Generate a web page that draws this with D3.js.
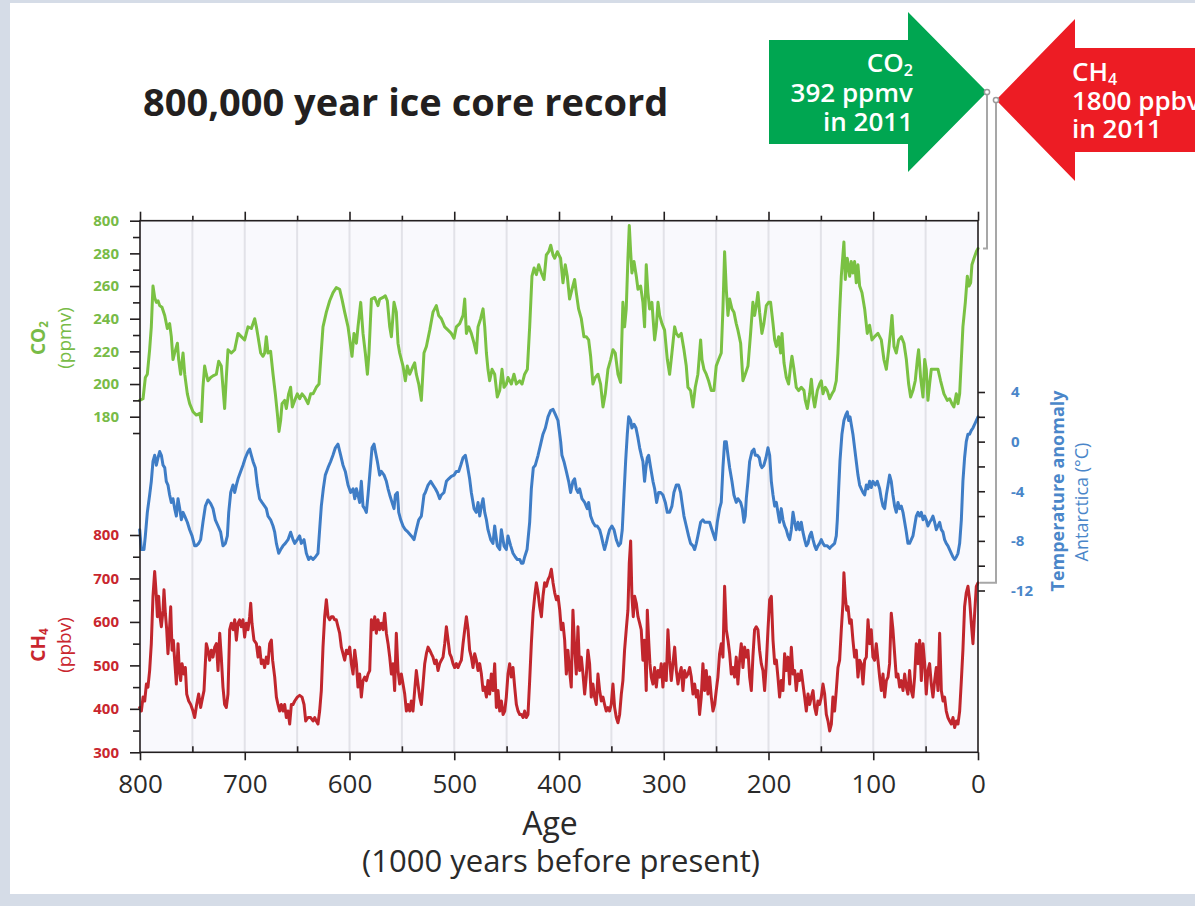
<!DOCTYPE html>
<html>
<head>
<meta charset="utf-8">
<script src="https://cdn.jsdelivr.net/npm/d3@7"></script>
<style>
  body { margin: 0; background: #d5dce7; }
  svg { display: block; }
  text { font-family: "Open Sans", "Noto Sans", sans-serif; }
</style>
</head>
<body>
<svg id="chart" width="1195" height="906"></svg>
<script>
// Age axis (thousand years before present)
const ageTicks = [800, 700, 600, 500, 400, 300, 200, 100, 0];
const ageMinorTicks = [750, 650, 550, 450, 350, 250, 150, 50];

// CO2 axis (ppmv); the top tick carries the label "800" as printed on the figure
const co2Ticks = [180, 200, 220, 240, 260, 280, 300];
const co2TickLabels = ["180", "200", "220", "240", "260", "280", "800"];
const co2MinorTicks = [170, 190, 210, 230, 250, 270, 290];

// CH4 axis (ppbv)
const ch4Ticks = [300, 400, 500, 600, 700, 800];
const ch4MinorTicks = [350, 450, 550, 650, 750];

// Antarctic temperature anomaly axis (°C)
const tempTicks = [4, 0, -4, -8, -12];
const tempMinorTicks = [2, -2, -6, -10];

// Present-day values shown in the arrows
const co2Now = ["CO", "2", "392 ppmv", "in 2011"];
const ch4Now = ["CH", "4", "1800 ppbv", "in 2011"];

// Ice core records: [age in kyr BP, value]
const co2Record = [[800.3,190],[797.1,191],[794.9,204],[793.0,206],[790.8,221],[789.2,235],[787.6,260],[786.0,253],[784.4,250],[782.8,251],[781.2,248],[779.0,247],[776.4,242],[773.9,234],[771.7,237],[770.1,229],[768.5,215],[766.9,219],[764.3,225],[763.1,215],[761.2,206],[758.9,219],[757.3,206],[754.8,194],[752.6,188],[749.4,183],[746.2,181],[743.0,182],[741.4,177],[739.9,198],[738.3,211],[736.7,206],[735.1,202],[732.5,204],[730.3,205],[727.1,206],[724.9,214],[722.4,211],[720.8,198],[719.2,185],[717.6,204],[716.0,221],[712.8,219],[709.6,221],[706.4,231],[703.3,229],[700.1,227],[696.9,235],[693.7,234],[690.5,240],[688.9,235],[687.3,229],[684.8,219],[682.6,217],[681.0,219],[679.4,229],[677.8,219],[675.3,220],[673.0,206],[670.8,194],[668.9,182],[667.3,171],[665.7,178],[664.4,188],[661.9,190],[660.3,185],[658.1,194],[656.2,198],[654.6,186],[652.3,190],[649.8,194],[647.6,191],[645.3,194],[642.8,192],[639.6,188],[637.1,194],[634.8,194],[631.7,198],[629.1,200],[627.5,215],[625.3,235],[622.1,244],[618.9,251],[615.7,256],[612.6,259],[609.4,258],[607.2,252],[604.6,244],[601.4,235],[597.6,217],[595.7,231],[593.4,225],[591.9,235],[589.3,250],[587.1,231],[584.9,219],[582.9,206],[581.4,219],[579.1,252],[575.9,253],[572.8,248],[571.2,252],[568.0,253],[565.8,254],[563.9,251],[561.6,235],[560.0,229],[557.5,250],[555.3,244],[553.7,225],[552.1,219],[548.9,211],[546.7,202],[544.8,211],[542.5,206],[539.3,211],[537.8,213],[536.2,206],[533.9,200],[531.4,190],[528.9,219],[526.6,223],[523.4,233],[520.3,244],[517.1,248],[514.9,242],[512.3,240],[509.1,235],[505.9,233],[502.8,231],[500.2,228],[498.0,235],[494.8,237],[491.6,242],[490.0,252],[488.4,231],[486.2,235],[483.7,231],[481.1,225],[478.9,219],[477.3,235],[474.8,240],[472.5,246],[470.9,235],[469.3,219],[467.8,209],[466.2,202],[463.9,209],[461.4,206],[458.9,192],[456.6,196],[454.4,209],[452.5,198],[450.3,200],[448.7,204],[445.5,200],[443.0,206],[440.7,200],[437.5,202],[435.3,200],[432.8,206],[430.2,209],[428.0,235],[425.8,266],[423.8,271],[421.6,267],[419.4,273],[416.8,268],[414.3,264],[412.1,279],[409.8,281],[407.9,285],[405.7,279],[404.1,277],[401.6,281],[399.3,278],[398.5,277],[396.2,262],[394.0,273],[392.1,266],[389.9,252],[387.6,258],[385.1,264],[383.5,256],[381.3,246],[378.7,240],[376.2,229],[374.0,229],[371.7,227],[369.8,217],[367.6,200],[365.4,204],[362.8,206],[360.3,200],[358.0,186],[355.8,194],[353.3,209],[350.7,215],[348.5,221],[346.3,219],[343.7,206],[341.2,201],[339.0,250],[337.4,235],[335.8,246],[334.2,277],[332.9,297],[331.6,281],[330.4,268],[328.4,275],[326.2,266],[324.6,258],[322.1,260],[319.9,250],[318.3,235],[316.7,273],[315.1,256],[313.5,246],[311.3,250],[308.7,227],[307.1,235],[305.5,250],[303.9,242],[301.7,237],[299.2,233],[296.6,215],[294.4,206],[292.2,219],[289.6,235],[288.0,231],[285.8,229],[283.3,231],[280.7,221],[278.5,211],[276.9,198],[274.4,196],[272.1,186],[269.9,198],[267.4,206],[264.8,227],[263.5,215],[261.6,209],[259.4,206],[257.2,202],[254.6,196],[252.1,196],[249.9,211],[247.6,215],[245.1,219],[243.5,246],[241.9,281],[240.3,258],[238.7,242],[237.1,252],[234.9,246],[233.0,244],[230.8,237],[229.2,233],[226.6,225],[224.4,202],[222.2,206],[219.6,211],[217.1,231],[214.9,250],[213.3,242],[211.7,248],[210.1,256],[208.5,244],[206.3,231],[204.4,237],[202.1,248],[199.9,250],[198.0,250],[195.7,237],[194.1,227],[192.5,223],[190.3,229],[188.4,219],[187.1,231],[185.2,213],[183.0,204],[180.8,200],[178.9,211],[177.6,217],[175.7,209],[173.5,198],[171.2,196],[168.7,198],[166.1,196],[164.9,190],[162.9,185],[160.7,194],[159.1,203],[157.5,192],[155.9,186],[153.4,196],[151.2,200],[149.6,202],[148.0,194],[145.8,198],[143.9,196],[141.6,191],[139.4,194],[137.5,196],[135.3,202],[133.7,219],[132.1,244],[130.5,266],[128.0,287],[126.7,264],[124.8,277],[122.5,266],[121.0,275],[119.4,268],[117.8,275],[116.2,262],[114.6,273],[113.0,260],[110.8,256],[108.2,246],[105.7,231],[103.5,236],[101.2,227],[98.7,229],[95.5,231],[92.3,227],[89.8,215],[87.5,209],[85.3,221],[83.4,233],[82.1,242],[80.2,223],[78.0,219],[75.8,227],[73.2,229],[70.7,225],[68.4,215],[66.2,200],[64.3,192],[62.1,196],[59.9,202],[57.9,215],[56.7,221],[54.8,204],[52.5,192],[50.9,215],[49.4,209],[47.8,190],[46.2,200],[44.6,209],[41.4,209],[38.2,209],[35.7,202],[32.5,194],[29.3,190],[27.1,191],[24.9,188],[23.0,186],[20.7,194],[19.1,188],[17.5,194],[15.9,215],[14.4,235],[12.1,250],[10.2,266],[8.6,260],[7.0,262],[5.8,273],[3.8,277],[1.6,281],[0.0,283]];

const tempRecord = [[800.3,-7.1],[798.7,-8.7],[796.2,-8.7],[794.9,-7.6],[793.0,-5.7],[790.8,-4.3],[789.2,-3.2],[787.6,-1.6],[786.0,-1.1],[784.4,-1.9],[782.8,-1.3],[781.2,-0.8],[779.6,-1.1],[778.0,-1.9],[776.4,-2.1],[774.9,-3.2],[773.3,-3.5],[771.7,-4.3],[770.1,-4.9],[768.5,-4.6],[766.9,-5.4],[765.3,-6.0],[763.7,-4.6],[762.1,-5.4],[760.5,-6.3],[758.9,-5.7],[757.3,-6.0],[754.8,-6.5],[752.6,-7.1],[750.3,-7.6],[747.8,-8.4],[746.2,-8.4],[744.0,-8.2],[742.1,-7.9],[739.9,-6.5],[737.6,-5.2],[735.1,-4.7],[732.5,-5.0],[730.3,-5.4],[728.1,-6.3],[725.5,-6.8],[723.0,-7.3],[720.8,-8.4],[718.5,-8.2],[716.6,-7.6],[715.3,-5.7],[713.4,-4.1],[711.2,-3.5],[709.6,-4.1],[708.0,-3.5],[706.4,-3.0],[703.9,-2.4],[701.7,-1.9],[699.4,-1.3],[696.9,-0.8],[695.3,-0.6],[693.7,-1.1],[692.1,-1.6],[689.9,-2.1],[688.0,-3.5],[685.8,-4.6],[683.5,-4.9],[681.0,-5.2],[679.4,-5.4],[677.8,-6.0],[675.3,-6.3],[673.0,-6.8],[671.4,-7.3],[669.8,-8.2],[667.6,-9.0],[665.7,-8.7],[663.5,-8.4],[661.3,-8.2],[658.7,-7.9],[656.2,-7.3],[653.9,-7.9],[652.3,-8.2],[649.8,-7.9],[647.6,-7.6],[646.0,-8.2],[643.4,-7.9],[641.2,-9.0],[639.0,-9.5],[637.1,-9.3],[634.8,-9.5],[632.6,-9.3],[630.1,-9.0],[628.5,-7.1],[626.9,-5.2],[625.0,-3.8],[623.1,-2.7],[620.5,-2.1],[618.0,-1.6],[615.8,-1.1],[613.5,-0.5],[611.0,-0.2],[608.4,-1.1],[606.2,-1.9],[604.0,-2.4],[601.4,-3.5],[598.9,-4.1],[596.6,-3.8],[595.0,-4.6],[593.4,-3.8],[591.9,-4.3],[590.3,-4.9],[588.7,-3.2],[587.1,-5.2],[585.5,-5.4],[583.9,-5.7],[582.3,-4.3],[580.7,-2.7],[578.5,-0.5],[576.6,-0.2],[575.3,-0.8],[573.4,-1.6],[571.2,-2.7],[569.6,-2.4],[567.0,-2.7],[564.8,-3.2],[563.2,-3.8],[561.6,-4.3],[559.4,-4.9],[557.5,-5.4],[556.2,-4.3],[554.3,-4.1],[553.0,-5.7],[551.1,-6.3],[548.9,-6.8],[546.7,-7.1],[544.1,-7.3],[541.0,-7.6],[538.4,-7.9],[536.2,-7.1],[533.9,-6.3],[531.4,-6.0],[528.9,-4.3],[527.6,-4.1],[525.0,-3.5],[522.5,-3.2],[520.3,-3.5],[518.0,-3.8],[516.1,-4.1],[513.9,-4.6],[512.3,-4.3],[509.8,-4.1],[507.5,-3.2],[505.3,-3.0],[502.8,-2.8],[500.2,-2.7],[498.0,-2.4],[495.8,-2.4],[493.8,-1.9],[491.6,-1.3],[489.4,-1.1],[487.5,-1.9],[485.3,-3.0],[483.7,-4.1],[481.1,-5.4],[478.9,-5.7],[477.3,-4.9],[475.7,-6.0],[474.1,-5.2],[472.5,-4.6],[470.9,-5.7],[469.3,-6.3],[467.8,-7.1],[465.2,-7.9],[463.0,-8.2],[461.4,-6.8],[458.9,-8.4],[456.6,-8.7],[455.0,-7.1],[452.5,-8.4],[450.3,-8.7],[448.7,-7.6],[446.1,-8.4],[443.9,-9.0],[441.7,-9.3],[439.8,-9.5],[437.5,-9.5],[435.9,-9.8],[434.3,-9.8],[432.8,-9.3],[430.5,-8.7],[428.0,-6.5],[426.4,-3.8],[424.5,-2.1],[422.6,-1.9],[420.0,-1.1],[417.5,-0.2],[415.3,0.6],[413.0,1.1],[410.5,2.0],[408.0,2.5],[405.7,2.6],[403.5,2.2],[401.0,1.7],[398.4,0.0],[397.2,-1.1],[395.3,-1.6],[393.0,-2.4],[390.8,-3.2],[388.9,-4.1],[386.7,-3.2],[385.1,-3.0],[383.5,-3.8],[381.9,-4.1],[380.3,-3.8],[378.1,-4.6],[375.5,-4.9],[373.0,-5.4],[371.7,-4.9],[369.8,-6.0],[367.6,-6.5],[365.4,-6.8],[363.5,-6.8],[361.2,-7.1],[359.6,-7.6],[358.0,-8.2],[356.5,-8.7],[354.9,-8.2],[353.3,-7.6],[351.7,-7.1],[349.5,-6.8],[347.5,-7.1],[345.3,-7.9],[343.1,-8.4],[341.2,-8.2],[339.6,-7.1],[338.0,-4.3],[336.4,-1.6],[334.8,0.6],[333.5,2.0],[331.6,1.7],[330.4,1.1],[328.4,1.4],[326.5,1.1],[324.6,0.3],[323.0,-0.5],[321.4,-1.1],[319.9,-1.6],[318.3,-3.2],[317.0,-2.1],[315.7,-1.3],[314.4,-1.1],[312.5,-2.1],[310.3,-3.2],[308.7,-3.8],[306.8,-4.9],[304.9,-4.1],[303.0,-4.1],[300.8,-4.3],[298.5,-4.9],[296.6,-5.7],[294.4,-5.7],[292.2,-5.2],[290.3,-4.1],[288.0,-3.5],[285.8,-3.5],[283.9,-4.1],[282.6,-4.9],[280.7,-6.0],[278.5,-6.8],[276.3,-7.6],[274.4,-8.2],[272.1,-8.4],[270.5,-8.7],[268.9,-8.2],[267.4,-7.6],[264.8,-6.5],[262.6,-6.3],[261.0,-6.5],[258.4,-6.5],[256.2,-6.5],[254.0,-7.1],[252.1,-7.6],[250.8,-7.9],[248.9,-6.5],[246.7,-5.4],[245.1,-4.9],[243.5,-2.1],[241.9,0.0],[240.3,0.0],[238.7,-1.1],[237.1,-2.1],[234.9,-3.2],[233.0,-4.3],[230.8,-4.9],[229.2,-4.6],[226.6,-4.9],[225.0,-5.4],[223.4,-6.5],[222.2,-6.0],[221.2,-4.6],[219.6,-3.2],[218.0,-1.6],[215.8,-0.8],[213.9,-0.6],[212.6,-1.1],[210.7,-1.1],[208.8,-1.3],[207.5,-1.9],[206.3,-2.1],[204.4,-1.9],[202.4,-1.3],[200.5,-0.5],[198.9,-1.1],[197.3,-3.2],[195.7,-4.3],[194.1,-5.2],[192.5,-4.9],[191.0,-5.7],[189.4,-6.5],[187.8,-5.4],[186.2,-6.3],[184.6,-6.8],[183.0,-7.1],[181.4,-7.6],[179.8,-7.9],[178.2,-7.1],[176.6,-5.7],[175.0,-6.5],[173.5,-7.1],[171.9,-6.5],[170.3,-7.1],[168.7,-6.5],[167.1,-7.3],[165.5,-7.9],[163.9,-8.4],[162.3,-8.2],[160.7,-7.6],[159.1,-7.3],[157.5,-7.9],[155.9,-8.4],[154.4,-8.7],[152.8,-8.4],[151.2,-8.2],[149.6,-7.9],[148.0,-8.2],[146.4,-8.4],[143.9,-8.4],[141.6,-8.6],[139.4,-8.4],[136.9,-8.2],[135.3,-7.6],[134.3,-6.3],[133.0,-3.8],[131.8,-1.6],[129.9,0.6],[128.0,1.7],[126.0,2.2],[124.8,2.4],[123.5,1.7],[122.2,2.0],[121.0,1.4],[119.4,0.6],[117.8,-0.5],[116.2,-1.6],[114.6,-2.7],[113.0,-3.5],[111.4,-3.8],[109.8,-4.1],[108.2,-4.3],[106.6,-3.5],[105.0,-3.8],[103.5,-3.2],[101.9,-3.7],[100.3,-3.2],[98.0,-3.5],[96.1,-3.2],[93.9,-3.8],[92.3,-4.6],[90.7,-5.2],[89.1,-5.4],[87.5,-4.3],[85.9,-3.5],[84.4,-2.7],[82.8,-3.2],[81.2,-4.3],[79.6,-5.2],[78.0,-5.7],[76.4,-4.9],[74.8,-5.4],[73.2,-5.2],[71.6,-5.7],[70.0,-6.5],[68.4,-7.3],[66.9,-8.2],[65.3,-8.2],[63.7,-7.9],[62.1,-7.6],[60.5,-6.8],[58.9,-6.0],[57.3,-5.7],[55.7,-6.0],[54.1,-5.7],[52.5,-6.3],[50.9,-6.0],[49.4,-6.3],[47.8,-6.8],[46.2,-6.5],[44.6,-6.3],[43.0,-6.0],[41.4,-6.5],[39.8,-7.1],[38.2,-6.8],[36.6,-6.5],[35.0,-7.1],[33.4,-7.3],[31.9,-7.9],[30.3,-8.2],[28.7,-8.4],[27.1,-8.7],[25.5,-9.0],[23.9,-9.3],[22.3,-9.5],[20.7,-9.3],[19.1,-9.0],[17.5,-8.2],[15.9,-6.3],[14.4,-3.2],[12.8,-1.3],[11.2,0.0],[9.6,0.6],[8.0,0.6],[6.4,0.9],[4.8,1.1],[3.2,1.4],[1.6,1.7],[0.0,2.0]];

const ch4Record = [[800.3,403],[798.7,395],[797.1,427],[795.5,418],[793.9,457],[792.4,450],[790.8,488],[789.2,550],[787.6,659],[786.0,716],[784.4,659],[783.4,612],[782.2,659],[780.9,612],[779.6,589],[778.0,627],[777.1,674],[775.8,620],[774.5,582],[773.3,527],[771.7,589],[770.7,635],[769.4,535],[768.2,558],[766.9,512],[765.3,457],[763.7,550],[762.4,488],[761.2,465],[759.9,504],[758.0,480],[756.7,495],[755.4,434],[753.5,418],[751.6,410],[749.4,395],[747.8,380],[745.9,410],[744.0,434],[742.1,403],[740.2,427],[738.9,442],[736.7,550],[735.1,535],[733.5,512],[731.9,535],[730.3,519],[728.7,542],[727.1,550],[725.5,488],[723.9,574],[722.4,519],[720.8,450],[719.2,410],[717.6,403],[716.0,434],[714.4,582],[712.8,597],[711.2,582],[709.6,605],[708.0,558],[706.4,597],[704.9,605],[703.3,589],[701.7,605],[700.1,565],[698.5,597],[696.9,582],[695.3,612],[694.3,643],[693.1,597],[691.2,558],[688.9,550],[687.3,519],[685.8,542],[684.2,504],[682.6,512],[681.0,495],[679.4,519],[677.8,504],[676.2,550],[674.6,558],[673.4,512],[671.4,473],[669.8,427],[668.3,410],[666.7,395],[665.1,410],[663.5,395],[661.9,410],[660.3,380],[658.7,395],[657.1,365],[655.5,410],[653.9,410],[652.3,418],[649.8,427],[647.6,431],[645.3,427],[643.4,410],[641.8,372],[639.6,380],[637.1,380],[634.8,372],[633.2,380],[631.7,372],[630.1,365],[628.5,395],[626.9,442],[625.3,542],[623.7,612],[622.1,651],[620.5,612],[618.9,605],[617.3,612],[615.7,612],[614.2,605],[612.6,605],[611.0,589],[609.4,574],[607.8,542],[606.2,527],[604.6,512],[603.0,535],[601.4,527],[599.8,542],[598.2,504],[596.6,480],[595.0,535],[593.4,504],[591.9,450],[590.3,480],[588.7,427],[587.1,465],[585.5,473],[583.9,465],[582.3,480],[580.7,488],[579.1,605],[577.5,582],[575.9,612],[574.4,574],[572.8,605],[571.2,582],[569.6,597],[568.0,582],[566.4,620],[564.8,574],[563.2,550],[561.6,519],[560.0,480],[558.4,504],[556.9,442],[555.3,574],[553.7,488],[552.1,457],[550.5,480],[548.9,457],[547.3,434],[545.7,395],[544.1,410],[542.5,395],[541.0,418],[539.4,395],[537.8,442],[536.2,488],[534.6,457],[533.0,427],[531.4,410],[529.8,457],[528.2,504],[526.6,527],[525.0,542],[523.4,535],[521.9,527],[520.3,519],[518.7,504],[517.1,512],[515.5,488],[513.9,504],[512.3,512],[510.7,519],[509.1,550],[507.5,589],[505.9,558],[504.3,527],[502.8,519],[501.2,504],[499.6,495],[498.0,504],[496.4,495],[494.8,504],[493.2,512],[491.6,550],[490.0,582],[488.4,612],[486.8,582],[485.3,535],[483.7,519],[482.1,495],[480.5,527],[478.9,512],[477.3,488],[475.7,504],[474.1,480],[472.5,442],[470.9,450],[469.3,427],[467.8,465],[466.2,434],[464.6,480],[463.0,442],[461.4,504],[459.8,403],[458.2,442],[456.6,395],[455.0,418],[453.4,387],[451.8,395],[450.3,427],[448.7,480],[447.1,504],[445.5,473],[443.9,495],[442.3,450],[440.7,410],[439.1,395],[437.5,387],[435.9,387],[434.3,380],[432.8,395],[431.2,380],[429.6,387],[428.0,465],[426.4,550],[424.8,620],[423.2,659],[421.6,690],[420.0,667],[418.4,635],[416.8,612],[415.3,659],[413.7,690],[412.1,682],[410.5,697],[408.9,705],[407.3,721],[405.7,690],[404.1,667],[402.5,651],[400.9,659],[399.3,627],[397.8,582],[396.2,597],[394.6,558],[393.0,480],[391.5,535],[389.9,488],[388.3,450],[386.7,627],[385.1,542],[383.5,480],[381.9,589],[380.3,488],[378.7,519],[377.1,480],[375.5,434],[374.0,473],[372.4,535],[370.8,504],[369.2,427],[367.6,457],[366.0,427],[364.4,410],[362.8,480],[361.2,442],[359.6,418],[358.0,427],[356.5,410],[354.9,395],[353.3,403],[351.7,395],[350.1,410],[348.5,457],[346.9,403],[345.3,380],[343.7,368],[342.1,387],[340.5,434],[339.0,465],[337.4,535],[335.8,582],[334.2,627],[332.9,736],[331.6,786],[330.4,659],[329.1,612],[327.8,659],[326.2,643],[324.6,612],[323.0,597],[321.5,582],[319.9,512],[318.3,558],[316.7,442],[315.7,627],[314.4,558],[313.2,504],[311.9,473],[310.3,457],[308.7,495],[307.1,450],[305.5,488],[303.9,473],[302.4,504],[300.8,450],[299.2,504],[297.6,465],[296.0,582],[294.4,512],[292.8,465],[291.2,504],[289.6,542],[288.0,488],[286.4,457],[284.9,480],[283.3,495],[281.7,442],[280.1,488],[278.5,473],[276.9,480],[275.3,495],[273.7,473],[272.1,434],[270.5,457],[268.9,427],[267.4,442],[265.8,387],[264.2,427],[262.6,504],[261.0,442],[259.4,488],[257.8,434],[256.2,473],[254.6,427],[253.0,395],[251.4,410],[249.9,442],[248.3,473],[246.7,527],[245.1,550],[243.5,519],[241.9,682],[240.3,582],[238.7,558],[237.1,527],[235.5,480],[233.9,495],[232.4,473],[230.8,519],[229.2,457],[227.6,512],[226.0,550],[224.4,495],[222.8,542],[221.2,519],[219.6,535],[218.0,473],[216.4,442],[214.9,519],[213.3,582],[211.7,589],[210.1,582],[208.5,535],[206.9,504],[205.3,488],[203.7,442],[202.1,504],[200.5,582],[198.9,651],[197.3,659],[195.7,558],[194.1,504],[192.5,512],[191.0,473],[189.4,427],[187.8,465],[186.2,442],[184.6,527],[183.0,488],[181.4,519],[179.8,457],[178.2,542],[176.6,480],[175.0,488],[173.5,442],[171.9,480],[170.3,465],[168.7,488],[167.1,457],[165.5,427],[163.9,395],[162.3,434],[160.7,410],[159.1,427],[157.5,442],[155.9,403],[154.4,387],[152.8,418],[151.2,410],[149.6,427],[148.0,457],[146.4,434],[144.8,387],[143.2,372],[141.6,349],[140.0,365],[138.5,427],[136.9,395],[135.3,442],[133.7,495],[132.1,512],[130.5,582],[128.9,643],[128.0,713],[126.7,659],[125.4,627],[124.1,635],[122.5,597],[121.0,605],[119.4,558],[117.8,519],[116.2,535],[114.6,473],[113.0,512],[111.4,504],[109.8,457],[108.2,512],[106.6,519],[105.0,605],[103.4,550],[101.9,582],[100.3,519],[98.7,512],[97.1,550],[95.5,512],[93.9,473],[92.3,442],[90.7,480],[89.1,427],[87.5,465],[85.9,473],[84.4,504],[82.8,620],[81.2,582],[79.6,527],[78.0,473],[76.4,480],[74.8,450],[73.2,465],[71.6,442],[70.0,480],[68.4,450],[66.9,434],[65.3,488],[63.7,442],[62.1,427],[60.5,473],[58.9,550],[57.3,504],[55.7,558],[54.1,465],[52.5,550],[50.9,504],[49.4,434],[47.8,488],[46.2,504],[44.6,457],[43.0,427],[41.4,465],[39.8,495],[38.2,442],[36.6,574],[35.0,442],[33.4,418],[31.9,427],[30.3,395],[28.7,380],[27.1,372],[25.5,365],[23.9,380],[22.3,357],[20.7,372],[19.1,365],[17.5,395],[15.9,465],[14.4,535],[12.8,635],[11.2,667],[9.6,682],[8.0,651],[6.4,597],[4.8,550],[3.2,620],[1.6,682],[0.0,690]];

// ---- colours ----
const co2Colour = "#7ac143", co2Text = "#78bb47";
const tempColour = "#3f7dc6", tempText = "#4a86c9";
const ch4Colour = "#c1262d", ch4Text = "#c9262e";
const inkColour = "#231f20";

const svg = d3.select("#chart");

// page frame
svg.append("rect").attr("x", 0).attr("y", 0).attr("width", 1195).attr("height", 906).attr("fill", "#d5dce7");
svg.append("rect").attr("x", 10).attr("y", 3).attr("width", 1185).attr("height", 891).attr("fill", "#ffffff");

// ---- scales ----
const x = d3.scaleLinear().domain([800, 0]).range([140, 978]);
const yCO2 = d3.scaleLinear().domain([180, 300]).range([416.7, 220.7]);
const yTemp = d3.scaleLinear().domain([-12, 4]).range([590.5, 392]);
const yCH4 = d3.scaleLinear().domain([300, 800]).range([752.3, 535]);

const plotTop = yCO2(300), plotBottom = yCH4(300), plotLeft = x(800), plotRight = x(0);

// plot background and vertical guides
svg.append("rect").attr("x", plotLeft).attr("y", plotTop)
  .attr("width", plotRight - plotLeft).attr("height", plotBottom - plotTop)
  .attr("fill", "#f9f9fd");
svg.append("g").selectAll("line").data(ageMinorTicks.concat(ageTicks.slice(1, -1))).join("line")
  .attr("x1", d => x(d)).attr("x2", d => x(d)).attr("y1", plotTop).attr("y2", plotBottom)
  .attr("stroke", "#e2e2e8").attr("stroke-width", 2);

// ---- series ----
function drawSeries(data, yScale, colour) {
  const line = d3.line().x(d => x(d[0])).y(d => yScale(d[1]));
  svg.append("path").datum(data).attr("d", line)
    .attr("fill", "none").attr("stroke", colour).attr("stroke-width", 3)
    .attr("stroke-linejoin", "round").attr("stroke-linecap", "round");
}
drawSeries(co2Record, yCO2, co2Colour);
drawSeries(tempRecord, yTemp, tempColour);
drawSeries(ch4Record, yCH4, ch4Colour);

// ---- frame ----
svg.append("rect").attr("x", plotLeft).attr("y", plotTop)
  .attr("width", plotRight - plotLeft).attr("height", plotBottom - plotTop)
  .attr("fill", "none").attr("stroke", inkColour).attr("stroke-width", 1.6);

function styleAxis(g, colour) {
  g.select(".domain").remove();
  g.selectAll(".tick line").attr("stroke", colour).attr("stroke-width", 1.6);
}

// age axes
const gBottom = svg.append("g").attr("transform", `translate(0,${plotBottom})`)
  .call(d3.axisBottom(x).tickValues(ageTicks).tickSize(8).tickPadding(14).tickFormat(d3.format("d")));
styleAxis(gBottom, inkColour);
gBottom.selectAll("text").attr("fill", "#2a2a2a").attr("font-size", 26).attr("font-family", "Open Sans");
const gBottomMinor = svg.append("g").attr("transform", `translate(0,${plotBottom})`)
  .call(d3.axisBottom(x).tickValues(ageMinorTicks).tickSize(-6).tickFormat(""));
styleAxis(gBottomMinor, inkColour);

const gTop = svg.append("g").attr("transform", `translate(0,${plotTop})`)
  .call(d3.axisTop(x).tickValues(ageTicks).tickSize(9).tickFormat(""));
styleAxis(gTop, inkColour);
const gTopMinor = svg.append("g").attr("transform", `translate(0,${plotTop})`)
  .call(d3.axisTop(x).tickValues(ageMinorTicks).tickSize(5).tickFormat(""));
styleAxis(gTopMinor, inkColour);

// CO2 axis
const gCO2 = svg.append("g").attr("transform", `translate(${plotLeft},0)`)
  .call(d3.axisLeft(yCO2).tickValues(co2Ticks).tickSize(10).tickPadding(11)
    .tickFormat((d, i) => co2TickLabels[i]));
styleAxis(gCO2, inkColour);
gCO2.selectAll("text").attr("fill", co2Text).attr("font-size", 15).attr("font-weight", 700);
const gCO2Minor = svg.append("g").attr("transform", `translate(${plotLeft},0)`)
  .call(d3.axisLeft(yCO2).tickValues(co2MinorTicks).tickSize(7).tickFormat(""));
styleAxis(gCO2Minor, inkColour);

// CH4 axis
const gCH4 = svg.append("g").attr("transform", `translate(${plotLeft},0)`)
  .call(d3.axisLeft(yCH4).tickValues(ch4Ticks).tickSize(10).tickPadding(11).tickFormat(d3.format("d")));
styleAxis(gCH4, inkColour);
gCH4.selectAll("text").attr("fill", ch4Text).attr("font-size", 15).attr("font-weight", 700);
const gCH4Minor = svg.append("g").attr("transform", `translate(${plotLeft},0)`)
  .call(d3.axisLeft(yCH4).tickValues(ch4MinorTicks).tickSize(7).tickFormat(""));
styleAxis(gCH4Minor, inkColour);

// temperature axis
const gTemp = svg.append("g").attr("transform", `translate(${plotRight},0)`)
  .call(d3.axisRight(yTemp).tickValues(tempTicks).tickSize(7).tickPadding(26)
    .tickFormat(d => (d < 0 ? "-" + Math.abs(d) : String(d))));
styleAxis(gTemp, inkColour);
gTemp.selectAll("text").attr("fill", tempText).attr("font-size", 15).attr("font-weight", 700);
const gTempMinor = svg.append("g").attr("transform", `translate(${plotRight},0)`)
  .call(d3.axisRight(yTemp).tickValues(tempMinorTicks).tickSize(7).tickFormat(""));
styleAxis(gTempMinor, inkColour);

// ---- axis titles ----
function vTitle(xPos, yPos, parts, colour, size, weight) {
  const t = svg.append("text").attr("transform", `translate(${xPos},${yPos}) rotate(-90)`)
    .attr("text-anchor", "middle").attr("fill", colour).attr("font-size", size).attr("font-weight", weight);
  parts.forEach(p => {
    const s = t.append("tspan").text(p.text);
    if (p.sub) s.attr("font-size", size * 0.62).attr("dy", size * 0.18);
  });
  return t;
}
vTitle(45, 338, [{text: "CO"}, {text: "2", sub: true}], co2Text, 19, 700);
vTitle(71, 338, [{text: "(ppmv)"}], co2Text, 19, 400);
vTitle(45, 645, [{text: "CH"}, {text: "4", sub: true}], ch4Text, 19, 700);
vTitle(71, 645, [{text: "(ppbv)"}], ch4Text, 19, 400);
vTitle(1064, 491, [{text: "Temperature anomaly"}], tempText, 18, 700);
vTitle(1088, 502, [{text: "Antarctica (°C)"}], tempText, 18, 400);

// age axis title
svg.append("text").attr("x", 550).attr("y", 835).attr("text-anchor", "middle")
  .attr("fill", "#2a2a2a").attr("font-size", 32).text("Age");
svg.append("text").attr("x", 561).attr("y", 872).attr("text-anchor", "middle")
  .attr("fill", "#2a2a2a").attr("font-size", 31).text("(1000 years before present)");

// chart title
svg.append("text").attr("x", 143).attr("y", 116).attr("fill", inkColour)
  .attr("font-size", 38).attr("font-weight", 700).text("800,000 year ice core record");

// ---- present-day arrows ----
const co2Tip = [987, 92], ch4Tip = [996, 100];
svg.append("polygon")
  .attr("points", [[769, 40], [908, 40], [908, 12], co2Tip, [908, 172], [908, 144], [769, 144]].join(" "))
  .attr("fill", "#00a651");
svg.append("polygon")
  .attr("points", [ch4Tip, [1075, 19], [1075, 48], [1200, 48], [1200, 152], [1075, 152], [1075, 181]].join(" "))
  .attr("fill", "#ed1c24");

// connectors from the arrow tips to the latest values on the plot
const lastCO2 = co2Record[co2Record.length - 1];
const lastCH4 = ch4Record[ch4Record.length - 1];
svg.append("path")
  .attr("d", `M${co2Tip[0]},${co2Tip[1] + 3} V${yCO2(lastCO2[1])} H${plotRight + 5}`)
  .attr("fill", "none").attr("stroke", "#a7a7a7").attr("stroke-width", 2);
svg.append("path")
  .attr("d", `M${ch4Tip[0]},${ch4Tip[1] + 3} V${yCH4(lastCH4[1])} H${plotRight + 2}`)
  .attr("fill", "none").attr("stroke", "#a7a7a7").attr("stroke-width", 2);
[co2Tip, ch4Tip].forEach(p => svg.append("circle").attr("cx", p[0]).attr("cy", p[1]).attr("r", 2.6)
  .attr("fill", "#ffffff").attr("stroke", "#9a9a9a").attr("stroke-width", 1.5));

// three-line arrow label drawn as a single text block
function arrowText(xPos, anchor, lines, firstBaseline, lineGap) {
  const size = 26;
  const t = svg.append("text").attr("x", xPos).attr("y", firstBaseline)
    .attr("fill", "#ffffff").attr("font-size", size).attr("font-weight", 600)
    .attr("text-anchor", anchor);
  t.append("tspan").text(lines[0]);
  t.append("tspan").text(lines[1]).attr("font-size", size * 0.62).attr("dy", size * 0.16);
  t.append("tspan").attr("x", xPos).attr("dy", lineGap - size * 0.16).text(lines[2]);
  t.append("tspan").attr("x", xPos).attr("dy", lineGap).text(lines[3]);
}
arrowText(913, "end", co2Now, 72, 29.5);
arrowText(1072, "start", ch4Now, 81, 28.5);
</script>
</body>
</html>
